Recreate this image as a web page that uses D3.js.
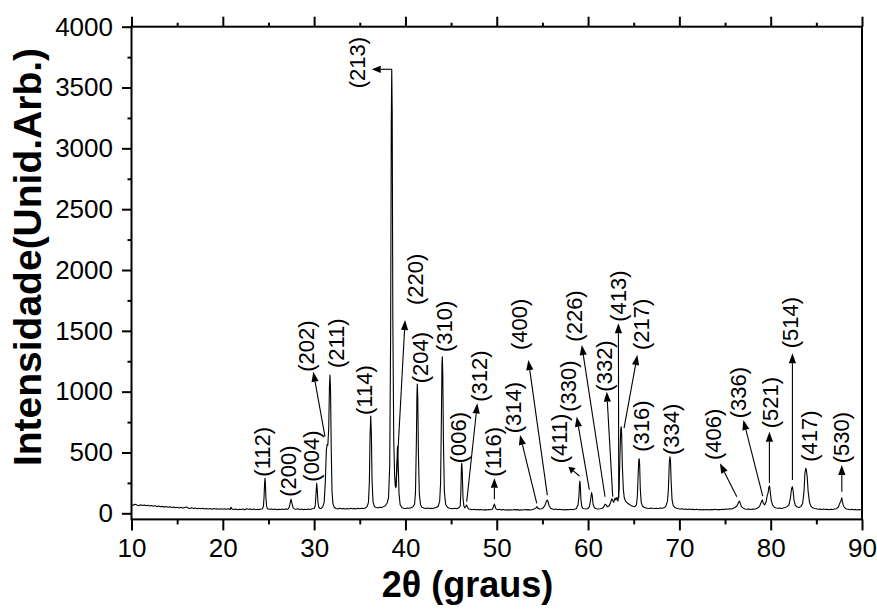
<!DOCTYPE html>
<html>
<head>
<meta charset="utf-8">
<script src="https://cdn.jsdelivr.net/npm/d3@7"></script>
<style>
  body { margin: 0; background: #fff; }
  svg { display: block; }
  text { font-family: "Liberation Sans", Arial, sans-serif; fill: #000; }
</style>
</head>
<body>
<svg id="chart" width="877" height="610"></svg>
<script>
// Diffractogram, split into angular windows: [2θ (graus), intensidade]
const scan10to24 = [
  [10.0,72],[10.2,66],[10.4,74],[10.6,68],[10.8,63],[11.0,71],[11.2,65],[11.4,69],[11.6,62],[11.8,66],
  [12.0,60],[12.2,64],[12.4,58],[12.6,62],[12.8,55],[13.0,60],[13.2,54],[13.4,57],[13.6,51],[13.8,56],
  [14.0,50],[14.2,54],[14.4,48],[14.6,52],[14.8,46],[15.0,50],[15.2,44],[15.4,49],[15.6,43],[15.8,47],
  [16.0,52],[16.2,44],[16.4,40],[16.6,45],[16.8,39],[17.0,43],[17.2,38],[17.4,42],[17.6,37],[17.8,41],
  [18.0,36],[18.2,40],[18.4,35],[18.6,39],[18.8,34],[19.0,40],[19.2,35],[19.4,38],[19.6,33],[19.8,37],
  [20.0,34],[20.2,38],[20.4,33],[20.6,37],[20.8,32],[20.9,50],[21.0,36],[21.2,31],[21.4,35],[21.6,30],
  [21.8,34],[22.0,31],[22.2,35],[22.4,30],[22.6,38],[22.8,33],[23.0,36],[23.2,31],[23.4,35],[23.6,30],
  [23.8,34],[24.0,32],[24.2,36]
];
const scan24to32 = [
  [24.35,38],[24.45,60],[24.52,140],[24.58,255],[24.62,288],[24.66,250],[24.72,130],[24.8,55],[24.9,38],
  [25.1,33],[25.3,36],[25.5,31],[25.7,35],[25.9,30],[26.1,34],[26.3,31],[26.5,36],[26.7,32],[26.9,35],
  [27.1,33],[27.25,45],[27.35,75],[27.47,117],[27.58,80],[27.7,45],[27.85,36],[28.0,33],[28.2,37],
  [28.4,31],[28.6,35],[28.8,30],[29.0,34],[29.2,31],[29.4,35],[29.6,32],[29.8,37],[30.0,40],
  [30.12,60],[30.2,150],[30.28,246],[30.34,200],[30.42,90],[30.52,48],[30.65,40],[30.8,42],[30.95,55],
  [31.1,90],[31.22,250],[31.34,520],[31.42,565],[31.5,560],[31.6,700],[31.68,1050],[31.74,1137],
  [31.8,1000],[31.88,500],[31.96,180],[32.06,80],[32.2,50]
];
const scan32to41 = [
  [32.4,40],[32.6,36],[32.8,41],[33.0,37],[33.2,40],[33.4,35],[33.6,39],[33.8,36],[34.0,41],[34.2,37],
  [34.4,40],[34.6,36],[34.8,42],[35.0,38],[35.2,41],[35.4,39],[35.6,44],[35.8,55],
  [35.95,90],[36.05,260],[36.12,620],[36.2,800],[36.27,650],[36.34,280],[36.45,95],[36.6,55],
  [36.8,48],[37.0,45],[37.2,50],[37.4,48],[37.6,55],[37.8,62],[38.0,85],
  [38.15,130],[38.28,400],[38.38,1500],[38.45,3200],[38.5,3650],[38.55,3300],[38.62,1600],[38.72,600],
  [38.82,300],[38.88,230],[38.95,210],[39.05,380],[39.13,550],[39.2,430],[39.3,160],[39.42,70],
  [39.6,48],[39.8,42],[40.0,40],[40.2,44],[40.4,41],[40.6,46],[40.8,52],[41.0,75]
];
const scan41to50 = [
  [41.1,170],[41.2,600],[41.26,980],[41.3,1063],[41.35,950],[41.42,500],[41.52,160],[41.65,70],
  [41.8,50],[42.0,44],[42.2,40],[42.4,43],[42.6,39],[42.8,42],[43.0,40],[43.2,45],[43.4,48],[43.6,60],
  [43.75,100],[43.85,250],[43.94,800],[44.0,1230],[44.04,1287],[44.09,1150],[44.16,600],[44.26,180],
  [44.4,75],[44.6,50],[44.8,42],[45.0,40],[45.2,38],[45.4,41],[45.6,37],[45.8,43],[46.0,60],
  [46.07,180],[46.13,380],[46.17,411],[46.22,350],[46.3,130],[46.4,60],[46.5,45],
  [46.62,58],[46.7,68],[46.78,52],[46.9,38],[47.1,34],[47.3,30],[47.5,33],[47.7,29],[47.9,32],
  [48.1,28],[48.3,31],[48.5,27],[48.7,30],[48.9,28],[49.1,32],[49.3,29],[49.5,33],[49.6,45],
  [49.68,65],[49.74,76],[49.8,62],[49.9,38]
];
const scan50to59 = [
  [50.1,30],[50.3,33],[50.5,28],[50.7,31],[50.9,27],[51.1,30],[51.3,26],[51.5,29],[51.7,27],[51.9,31],
  [52.1,28],[52.3,30],[52.5,26],[52.7,29],[52.9,27],[53.1,31],[53.3,28],[53.5,30],[53.7,27],[53.9,31],
  [54.1,35],[54.3,45],[54.4,55],[54.5,42],[54.7,35],[54.9,38],[55.1,45],[55.3,70],[55.45,100],
  [55.54,109],[55.62,95],[55.75,60],[55.9,42],[56.1,36],[56.3,32],[56.5,35],[56.7,30],[56.9,33],
  [57.1,29],[57.3,32],[57.5,28],[57.7,31],[57.9,29],[58.1,33],[58.3,30],[58.5,34],[58.7,38],[58.9,70]
];
const scan59to69 = [
  [59.0,140],[59.06,240],[59.1,265],[59.15,230],[59.22,110],[59.32,55],[59.45,40],[59.6,38],[59.8,36],
  [60.0,40],[60.15,55],[60.3,120],[60.38,170],[60.45,150],[60.55,75],[60.7,45],[60.9,38],[61.1,35],
  [61.3,37],[61.5,40],[61.7,50],[61.85,75],[61.95,72],[62.1,55],[62.3,60],[62.5,95],[62.6,120],
  [62.7,108],[62.8,90],[62.95,125],[63.05,110],[63.15,130],[63.28,100],[63.4,200],[63.5,500],
  [63.58,690],[63.63,712],[63.68,650],[63.76,380],[63.86,200],[63.96,130],[64.1,100],[64.3,85],
  [64.5,75],[64.7,65],[64.9,58],[65.1,55],[65.3,70],
  [65.4,140],[65.5,350],[65.56,440],[65.6,448],[65.65,400],[65.72,200],[65.82,90],[65.95,60],
  [66.1,50],[66.3,45],[66.5,42],[66.7,40],[66.9,44],[67.1,41],[67.3,39],[67.5,42],[67.7,40],
  [67.9,43],[68.1,41],[68.3,45],[68.5,55],[68.7,100],
  [68.8,200],[68.9,420],[68.97,465],[69.03,430],[69.1,260],[69.2,110],[69.32,65],[69.5,48]
];
const scan69to79 = [
  [69.7,42],[69.9,38],[70.1,35],[70.3,38],[70.5,33],[70.7,36],[70.9,32],[71.1,35],[71.3,31],[71.5,34],
  [71.7,30],[71.9,33],[72.1,29],[72.3,32],[72.5,28],[72.7,31],[72.9,29],[73.1,32],[73.3,28],[73.5,31],
  [73.7,30],[73.9,33],[74.1,29],[74.3,32],[74.5,30],[74.7,34],[74.9,31],[75.1,35],[75.3,33],[75.5,37],
  [75.7,36],[75.9,42],[76.1,48],[76.3,60],[76.45,85],[76.57,101],[76.68,80],[76.8,55],[77.0,42],
  [77.2,36],[77.4,33],[77.6,36],[77.8,32],[78.0,35],[78.2,33],[78.4,38],[78.6,45],[78.8,60],
  [78.95,90],[79.08,110],[79.2,80]
];
const scan79to90 = [
  [79.35,70],[79.5,95],[79.62,145],[79.72,170],[79.8,215],[79.87,225],[79.95,180],[80.05,110],
  [80.2,70],[80.4,50],[80.6,44],[80.8,41],[81.0,43],[81.2,40],[81.4,44],[81.6,48],[81.8,55],[82.0,70],
  [82.15,120],[82.28,200],[82.37,219],[82.45,190],[82.55,110],[82.7,65],[82.9,52],[83.1,48],[83.3,55],
  [83.5,80],[83.65,180],[83.75,330],[83.84,370],[83.9,360],[84.0,300],[84.1,180],[84.25,90],[84.4,60],
  [84.6,45],[84.8,40],[85.0,37],[85.2,34],[85.4,36],[85.6,32],[85.8,35],[86.0,31],[86.2,34],[86.4,30],
  [86.6,33],[86.8,31],[87.0,35],[87.2,38],[87.4,50],[87.55,80],[87.65,95],[87.72,110],[87.78,128],
  [87.85,100],[87.95,65],[88.1,45],[88.3,36],[88.5,33],[88.7,30],[88.9,33],[89.1,29],[89.3,32],
  [89.5,28],[89.7,31],[89.9,29],[90.0,30]
];

// Axis ticks
const xTicks = [10, 20, 30, 40, 50, 60, 70, 80, 90];
const xMinorTicks = [15, 25, 35, 45, 55, 65, 75, 85];
const yTicks = [0, 500, 1000, 1500, 2000, 2500, 3000, 3500, 4000];
const yMinorTicks = [250, 750, 1250, 1750, 2250, 2750, 3250, 3750];

// Miller indices: label anchor [2θ, intensidade]; optional arrow from peak to label
const reflections = [
  { hkl: "(112)", at: [24.40, 301] },
  { hkl: "(200)", at: [27.14, 136] },
  { hkl: "(004)", at: [29.74, 260] },
  { hkl: "(202)", at: [29.19, 1164], from: [31.19, 630], to: [29.91, 1164] },
  { hkl: "(211)", at: [32.48, 1194] },
  { hkl: "(114)", at: [35.57, 808] },
  { hkl: "(213)", at: [34.73, 3494], from: [38.50, 3650], to: [36.31, 3650] },
  { hkl: "(220)", at: [41.05, 1712], from: [38.97, 219], to: [39.96, 1589] },
  { hkl: "(204)", at: [41.60, 1069] },
  { hkl: "(310)", at: [44.23, 1326] },
  { hkl: "(006)", at: [45.79, 411] },
  { hkl: "(312)", at: [48.09, 917], from: [46.71, 95], to: [47.87, 904] },
  { hkl: "(116)", at: [49.63, 301], from: [49.74, 115], to: [49.74, 288] },
  { hkl: "(314)", at: [51.82, 658], from: [54.38, 82], to: [52.55, 644] },
  { hkl: "(400)", at: [52.44, 1342], from: [55.54, 150], to: [53.46, 1260] },
  { hkl: "(411)", at: [56.86, 411], from: [59.05, 307], to: [57.84, 383] },
  { hkl: "(330)", at: [57.84, 835], from: [60.14, 192], to: [58.76, 794] },
  { hkl: "(226)", at: [58.47, 1411], from: [61.86, 136], to: [59.31, 1383] },
  { hkl: "(332)", at: [61.75, 1000], from: [62.70, 136], to: [62.05, 1000] },
  { hkl: "(413)", at: [63.29, 1575], from: [63.36, 126], to: [63.32, 1562] },
  { hkl: "(217)", at: [65.88, 1342], from: [63.94, 701], to: [65.40, 1301] },
  { hkl: "(316)", at: [65.88, 506] },
  { hkl: "(334)", at: [69.17, 479] },
  { hkl: "(406)", at: [73.72, 438], from: [76.29, 136], to: [74.44, 411] },
  { hkl: "(336)", at: [76.46, 781], from: [79.13, 142], to: [77.01, 767] },
  { hkl: "(521)", at: [79.93, 699], from: [79.86, 249], to: [79.86, 671] },
  { hkl: "(514)", at: [82.12, 1356], from: [82.38, 274], to: [82.38, 1315] },
  { hkl: "(417)", at: [84.24, 424] },
  { hkl: "(530)", at: [87.79, 411], from: [87.79, 178], to: [87.79, 397] }
];

const trace = [].concat(scan10to24, scan24to32, scan32to41, scan41to50,
                        scan50to59, scan59to69, scan69to79, scan79to90);

const svg = d3.select("#chart");
const plotLeft = 131.5, plotRight = 862, plotTop = 26.7, plotBottom = 519.4;

const x = d3.scaleLinear().domain([10, 90]).range([plotLeft, plotRight]);
const y = d3.scaleLinear().domain([-50, 4000]).range([plotBottom, plotTop]);

// Diffraction trace
svg.append("path")
  .datum(trace)
  .attr("fill", "none")
  .attr("stroke", "#000")
  .attr("stroke-width", 1.1)
  .attr("stroke-linejoin", "round")
  .attr("d", d3.line().x(d => x(d[0])).y(d => y(d[1])));

// Axes
function styleAxis(g) {
  g.select(".domain").remove();
  g.selectAll(".tick line").attr("stroke", "#000").attr("stroke-width", 2);
  g.selectAll("text").attr("font-size", 26).attr("fill", "#000")
    .style("font-family", '"Liberation Sans", Arial, sans-serif');
}

svg.append("g").attr("transform", `translate(0,${plotBottom})`)
  .call(d3.axisBottom(x).tickValues(xTicks).tickFormat(d3.format("d")).tickSize(11).tickPadding(8))
  .call(styleAxis);
svg.append("g").attr("transform", `translate(0,${plotBottom})`)
  .call(d3.axisBottom(x).tickValues(xMinorTicks).tickFormat("").tickSize(5))
  .call(styleAxis);

svg.append("g").attr("transform", `translate(0,${plotTop})`)
  .call(d3.axisTop(x).tickValues(xTicks).tickFormat("").tickSize(10))
  .call(styleAxis);
svg.append("g").attr("transform", `translate(0,${plotTop})`)
  .call(d3.axisTop(x).tickValues(xMinorTicks).tickFormat("").tickSize(4))
  .call(styleAxis);

svg.append("g").attr("transform", `translate(${plotLeft},0)`)
  .call(d3.axisLeft(y).tickValues(yTicks).tickFormat(d3.format("d")).tickSize(9.5).tickPadding(9))
  .call(styleAxis);
svg.append("g").attr("transform", `translate(${plotLeft},0)`)
  .call(d3.axisLeft(y).tickValues(yMinorTicks).tickFormat("").tickSize(4))
  .call(styleAxis);

// Frame
svg.append("rect")
  .attr("x", plotLeft).attr("y", plotTop)
  .attr("width", plotRight - plotLeft).attr("height", plotBottom - plotTop)
  .attr("fill", "none").attr("stroke", "#000").attr("stroke-width", 2);

// Arrows from peaks to their indices
const arrows = svg.append("g");
reflections.filter(r => r.from).forEach(r => {
  const x1 = x(r.from[0]), y1 = y(r.from[1]);
  const x2 = x(r.to[0]), y2 = y(r.to[1]);
  const len = Math.hypot(x2 - x1, y2 - y1);
  const ux = (x2 - x1) / len, uy = (y2 - y1) / len;
  const head = Math.min(10, len * 0.45), half = 3.6;
  const bx = x2 - ux * head, by = y2 - uy * head;
  arrows.append("line")
    .attr("x1", x1).attr("y1", y1).attr("x2", bx).attr("y2", by)
    .attr("stroke", "#000").attr("stroke-width", 1.1);
  arrows.append("path")
    .attr("d", `M${x2},${y2}L${bx - uy * half},${by + ux * half}L${bx + uy * half},${by - ux * half}Z`)
    .attr("fill", "#000");
});

// Index labels, written upward
svg.append("g").selectAll("text")
  .data(reflections)
  .join("text")
  .attr("transform", d => `translate(${x(d.at[0])},${y(d.at[1])}) rotate(-90)`)
  .attr("text-anchor", "start")
  .attr("dominant-baseline", "central")
  .attr("font-size", 22)
  .text(d => d.hkl);

// Axis titles
svg.append("text")
  .attr("x", 467.5).attr("y", 597)
  .attr("text-anchor", "middle")
  .attr("font-size", 36).attr("font-weight", "bold")
  .text("2θ (graus)");

svg.append("text")
  .attr("transform", "translate(41,257) rotate(-90)")
  .attr("text-anchor", "middle")
  .attr("font-size", 39).attr("font-weight", "bold")
  .text("Intensidade(Unid.Arb.)");
</script>
</body>
</html>
